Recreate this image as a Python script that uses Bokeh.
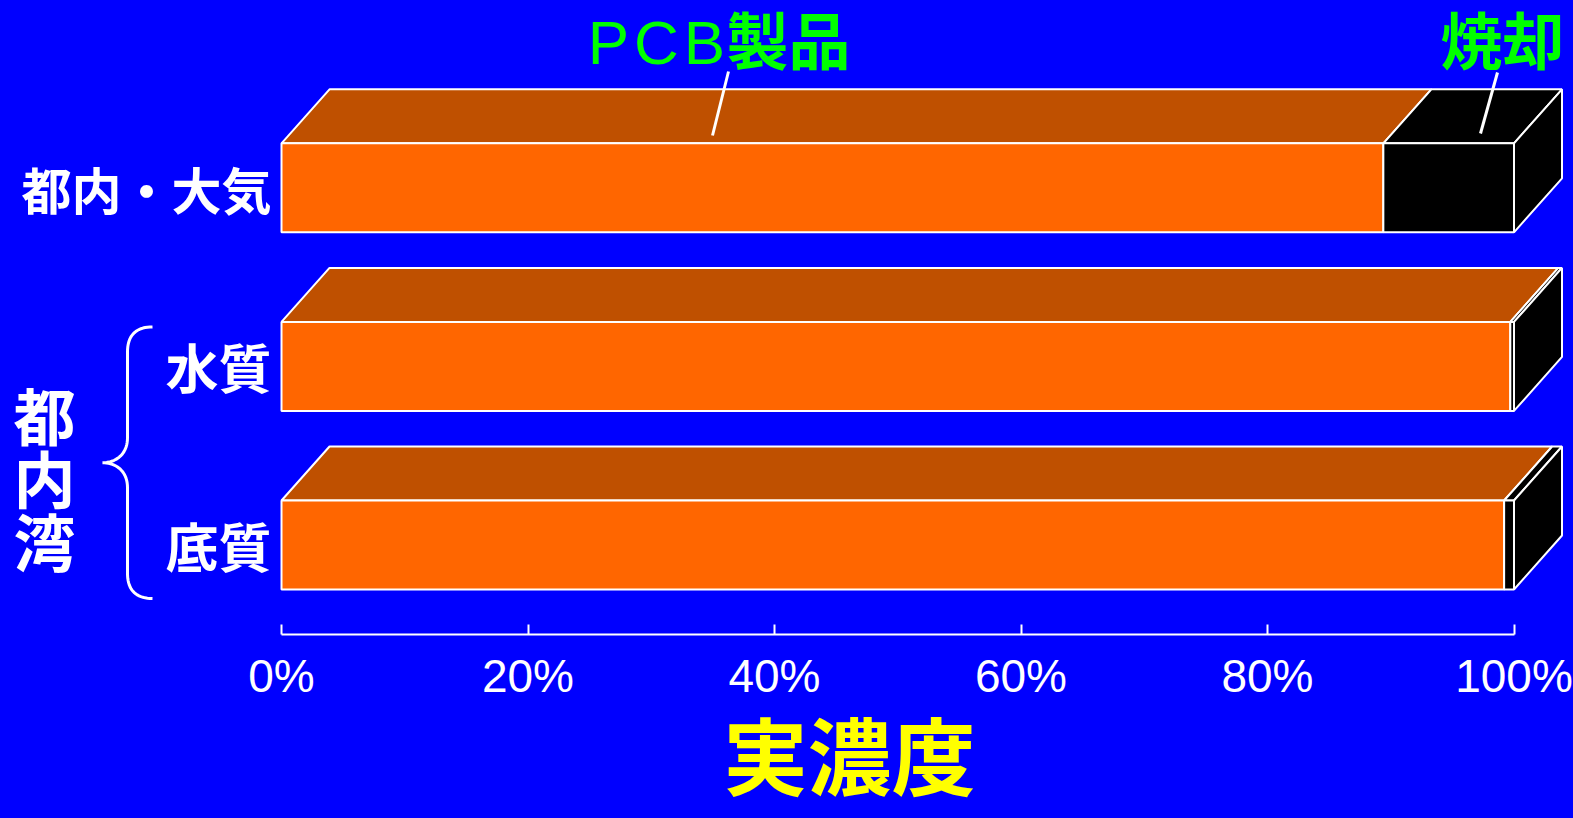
import numpy as np
from bokeh.plotting import figure
from bokeh.models import (Range1d, LinearAxis, FixedTicker, PrintfTickFormatter,
                          ColumnDataSource, Title)
from bokeh.core.properties import value
from bokeh.embed import file_html
from bokeh.resources import INLINE

# ---------------- data ----------------
categories = ["都内・大気", "水質", "底質"]
pcb_share = [89.4, 99.7, 99.2]          # % of real concentration from PCB products
incineration_share = [10.6, 0.3, 0.8]   # % from incineration
tick_values = [0, 20, 40, 60, 80, 100]
series_names = ["ＰＣＢ製品", "焼却"]
group_label = "都内湾"
axis_title = "実濃度"

# ---------------- geometry helpers ----------------
W, H = 1573, 818
AXIS_PX = 184
X0, SX = 281.0, 12.325      # pixel of 0 %, pixels per %
Y0, SY = 187.3, 178.6       # pixel of first row centre, pixels per row


def px2x(px):
    return (np.asarray(px, dtype=float) - X0) / SX


def px2y(py):
    return (np.asarray(py, dtype=float) - Y0) / SY


BAR_H = 89 / SY
DX = 48 / SX
DY = -54 / SY

BLUE = "#0000FF"
ORANGE = "#FF6600"
ORANGE_TOP = "#BF5000"
GREEN = "#00FF00"
YELLOW = "#FFFF00"
JP = value("Noto Sans CJK JP")

p = figure(width=W, height=H,
           x_range=Range1d(float(px2x(0)), float(px2x(W))),
           y_range=Range1d(float(px2y(H - AXIS_PX)), float(px2y(0))),
           x_axis_type=None, y_axis_type=None,
           output_backend="svg", toolbar_location=None,
           min_border_left=0, min_border_right=0, min_border_top=0,
           min_border_bottom=AXIS_PX,
           background_fill_color=BLUE, border_fill_color=None,
           outline_line_color=None)
p.styles = {"background-color": BLUE}

rows = np.arange(len(categories), dtype=float)
pcb = np.array(pcb_share, dtype=float)
inc = np.array(incineration_share, dtype=float)
top = rows - BAR_H / 2
bot = rows + BAR_H / 2
lefts = [np.zeros_like(pcb), pcb]
rights = [pcb, pcb + inc]
front_cols = [ORANGE, "black"]
top_cols = [ORANGE_TOP, "black"]

# top faces
for l, r, c in zip(lefts, rights, top_cols):
    xs = [[a, b, b + DX, a + DX] for a, b in zip(l, r)]
    ys = [[t, t, t + DY, t + DY] for t in top]
    p.patches(xs=xs, ys=ys, fill_color=c, line_color="white", line_width=2)

# right side faces
end = pcb + inc
sx = [[e, e + DX, e + DX, e] for e in end]
sy = [[t, t + DY, b + DY, b] for t, b in zip(top, bot)]
p.patches(xs=sx, ys=sy, fill_color="black", line_color="white", line_width=2)

# front faces
for l, r, c in zip(lefts, rights, front_cols):
    src = ColumnDataSource(dict(left=l, right=r, top=top, bottom=bot))
    p.quad(left="left", right="right", top="top", bottom="bottom", source=src,
           fill_color=c, line_color="white", line_width=2)

# category labels
p.text(x=[float(px2x(271))] * len(categories), y=rows, text=categories,
       text_align="right", text_baseline="middle", text_color="white",
       text_font=JP, text_font_style="bold",
       text_font_size=["50px", "53px", "53px"])

# group label + brace
p.text(x=[float(px2x(44))], y=[float(px2y(476))], text=["\n".join(group_label)],
       text_align="center", text_baseline="middle", text_color="white",
       text_font=JP, text_font_style="bold", text_font_size="62px",
       text_line_height=0.70)


def cubic(p0, p1, p2, p3, n=20):
    t = np.linspace(0, 1, n)[:, None]
    pts = ((1 - t) ** 3) * np.array(p0) + 3 * ((1 - t) ** 2) * t * np.array(p1) \
        + 3 * (1 - t) * t ** 2 * np.array(p2) + t ** 3 * np.array(p3)
    return pts


b_top = (rows[1] - BAR_H / 2) * SY + Y0 + 5
b_bot = (rows[2] + BAR_H / 2) * SY + Y0 + 9
b_mid = (b_top + b_bot) / 2
xe, xs_, xt = 152, 127, 102
r = 25
segs = [
    cubic((xe, b_top), (xs_ + 8, b_top), (xs_, b_top + 9), (xs_, b_top + r)),
    np.array([(xs_, b_top + r), (xs_, b_mid - r)]),
    cubic((xs_, b_mid - r), (xs_, b_mid - 8), (xt + 13, b_mid), (xt, b_mid)),
    cubic((xt, b_mid), (xt + 13, b_mid), (xs_, b_mid + 8), (xs_, b_mid + r)),
    np.array([(xs_, b_mid + r), (xs_, b_bot - r)]),
    cubic((xs_, b_bot - r), (xs_, b_bot - 9), (xs_ + 8, b_bot), (xe, b_bot)),
]
brace = np.vstack(segs)
p.line(x=px2x(brace[:, 0]), y=px2y(brace[:, 1]), line_color="white", line_width=3)

# series labels with leader lines
latin = list(series_names[0][:3].translate({0xFF21 + i: 0x41 + i for i in range(26)}))
latin_px = 608 + 48 * np.arange(len(latin))
p.text(x=px2x(latin_px), y=[float(px2y(41.5))] * len(latin), text=latin,
       text_align="center", text_baseline="middle", text_color=GREEN,
       text_font=value("Liberation Sans"), text_font_size="62px")
p.text(x=px2x([726, 1502]), y=px2y([37, 37]),
       text=[series_names[0][3:], series_names[1]],
       text_align=["left", "center"], text_baseline="middle", text_color=GREEN,
       text_font=JP, text_font_style="bold", text_font_size="62px")
p.segment(x0=px2x([728, 1497]), y0=px2y([71, 72]),
          x1=px2x([712, 1480]), y1=px2y([135, 133]),
          line_color="white", line_width=3)

# x axis
ax = LinearAxis(ticker=FixedTicker(ticks=tick_values),
                formatter=PrintfTickFormatter(format="%d%%"),
                bounds=(0, 100),
                axis_line_color="white", axis_line_width=2,
                major_tick_line_color="white", major_tick_line_width=2,
                major_tick_in=10, major_tick_out=0,
                minor_tick_line_color=None,
                major_label_text_color="white",
                major_label_text_font="Liberation Sans",
                major_label_text_font_size="46px",
                major_label_standoff=15)
p.add_layout(ax, "below")

TITLE_PX = 84
p.add_layout(Title(text=axis_title, align="left",
                   offset=849 - 1.5 * TITLE_PX, standoff=16,
                   vertical_align="top",
                   text_color=YELLOW,
                   text_font="Liberation Sans, Noto Sans CJK JP",
                   text_font_style="bold",
                   text_font_size=f"{TITLE_PX}px"), "below")

open("out.html", "w").write(file_html(p, INLINE))
